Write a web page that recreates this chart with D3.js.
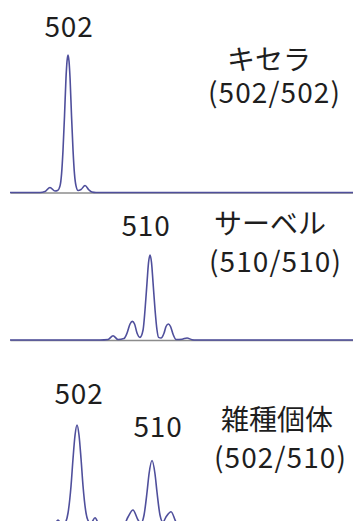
<!DOCTYPE html>
<html>
<head>
<meta charset="utf-8">
<script src="https://cdn.jsdelivr.net/npm/d3@7/dist/d3.min.js"></script>
<style>
  html, body { margin: 0; padding: 0; background: #fff; }
  svg { display: block; }
  text { font-family: "Noto Sans CJK JP", "Noto Sans", sans-serif; fill: #1e1e1e; }
</style>
</head>
<body>
<svg id="chart" width="353" height="521"></svg>
<script>
// Electropherogram traces: [fragment size (bp), signal (RFU)]
const traceKisela = [
  [496.34, 0], [499.27, 0], [499.76, 10], [500.24, 50], [500.73, 15], [500.98, 20],
  [501.22, 66], [501.37, 186], [501.51, 420], [501.66, 770], [501.80, 1140], [501.90, 1310],
  [502.00, 1375],
  [502.10, 1310], [502.20, 1140], [502.34, 770], [502.49, 420], [502.63, 186], [502.78, 66],
  [502.98, 20], [503.27, 30], [503.66, 70], [504.05, 25], [504.34, 5], [504.73, 0], [529.80, 0]
];
const traceServal = [
  [496.34, 0], [505.12, 0], [505.90, 5], [506.39, 43], [506.88, 5], [507.46, 15],
  [507.76, 70], [508.05, 160], [508.27, 186], [508.49, 160], [508.73, 70], [509.02, 26],
  [509.32, 100], [509.51, 300], [509.71, 580], [509.85, 770],
  [510.00, 850],
  [510.15, 770], [510.29, 580], [510.49, 300], [510.68, 100], [510.83, 26],
  [511.07, 20], [511.37, 70], [511.56, 135], [511.79, 160], [512.00, 135], [512.24, 60],
  [512.54, 5], [513.12, 8], [513.61, 20], [514.10, 3], [514.49, 0], [529.80, 0]
];
const traceHybrid = [
  [494.85, 0], [498.59, 0], [499.12, 5], [499.55, 30], [499.97, 90], [500.40, 40],
  [500.72, 60], [501.04, 160], [501.36, 430], [501.57, 700], [501.79, 940],
  [502.00, 1040],
  [502.21, 940], [502.43, 700], [502.64, 430], [502.96, 160], [503.28, 70], [503.49, 60],
  [503.92, 113], [504.35, 40], [504.77, 10], [505.52, 5], [506.37, 10], [507.01, 40],
  [507.44, 120], [507.97, 190], [508.51, 90], [508.83, 60], [509.15, 140], [509.47, 370],
  [509.68, 550],
  [510.00, 685],
  [510.32, 550], [510.53, 370], [510.85, 140], [511.17, 70], [511.49, 120], [512.03, 173],
  [512.56, 70], [513.09, 20], [513.63, 5], [514.27, 0], [531.44, 0]
];

// Allele labels (bp) per panel and sample names
const allelesKisela = [502];
const allelesServal = [510];
const allelesHybrid = [502, 510];
const sampleNames = ["キセラ", "サーベル", "雑種個体"];
const genotypeLabels = ["(502/502)", "(510/510)", "(502/510)"];

const svg = d3.select("#chart");

const panels = [
  { trace: traceKisela, alleles: allelesKisela, domain: [496.34, 529.80], base: 192.5,
    name: sampleNames[0], geno: genotypeLabels[0], nameX: 227, nameY: 70, genoX: 208, genoY: 103,
    labelDx: [1], labelY: [37] },
  { trace: traceServal, alleles: allelesServal, domain: [496.34, 529.80], base: 340,
    name: sampleNames[1], geno: genotypeLabels[1], nameX: 214, nameY: 234, genoX: 209, genoY: 272,
    labelDx: [-4], labelY: [235.5] },
  { trace: traceHybrid, alleles: allelesHybrid, domain: [494.85, 531.44], base: 529,
    name: sampleNames[2], geno: genotypeLabels[2], nameX: 221, nameY: 430, genoX: 214, genoY: 468,
    labelDx: [2, 6], labelY: [404, 437] }
];

const rfuToPx = 0.1;

panels.forEach(p => {
  const x = d3.scaleLinear().domain(p.domain).range([10, 353]);
  const maxRfu = d3.max(p.trace, d => d[1]);
  const y = d3.scaleLinear().domain([0, maxRfu]).range([p.base, p.base - maxRfu * rfuToPx]);

  const g = svg.append("g");

  // baseline axis
  const axis = d3.axisBottom(x).tickValues([]).tickSizeOuter(0);
  g.append("g")
    .attr("transform", `translate(0,${p.base})`)
    .call(axis)
    .call(s => s.select(".domain").attr("stroke", "#8c8c8c").attr("stroke-width", 1.5));

  // signal trace
  const line = d3.line()
    .x(d => x(d[0]))
    .y(d => y(d[1]))
    .curve(d3.curveMonotoneX);
  g.append("path")
    .datum(p.trace)
    .attr("fill", "none")
    .attr("stroke", "#4f4f9c")
    .attr("stroke-width", 1.6)
    .attr("stroke-linejoin", "round")
    .attr("d", line);

  // allele size labels above the peaks
  p.alleles.forEach((a, i) => {
    g.append("text")
      .attr("x", x(a) + p.labelDx[i])
      .attr("y", p.labelY[i])
      .attr("text-anchor", "middle")
      .attr("font-size", 28)
      .attr("letter-spacing", 0.8)
      .text(a);
  });

  // sample name and genotype
  g.append("text")
    .attr("x", p.nameX).attr("y", p.nameY)
    .attr("font-size", 28)
    .text(p.name);
  g.append("text")
    .attr("x", p.genoX).attr("y", p.genoY)
    .attr("font-size", 28)
    .attr("letter-spacing", 1.1)
    .text(p.geno);
});
</script>
</body>
</html>
